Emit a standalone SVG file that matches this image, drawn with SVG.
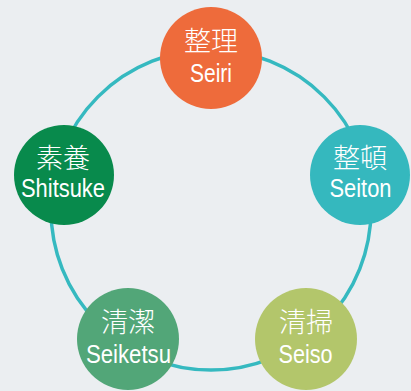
<svg xmlns="http://www.w3.org/2000/svg" width="411" height="391" viewBox="0 0 411 391">
<style>
.bg{fill:#EBEEF1}
.ring{fill:none;stroke:#35B9C0;stroke-width:3.5}
.jp{font-family:"Noto Sans CJK JP","Noto Sans CJK SC",sans-serif;font-size:27px;font-weight:300;fill:#ffffff;text-anchor:middle}
.en{font-family:"Liberation Sans",Arial,sans-serif;font-size:26px;fill:#ffffff;text-anchor:middle}
</style>
<rect class="bg" x="0" y="0" width="411" height="391"/>
<g id="connectors">
<circle class="ring" cx="211" cy="210" r="160"/>
</g>
<g id="seiri">
<circle cx="211" cy="58" r="51" fill="#EE6B3B"/>
<text class="jp" x="211" y="50.5">整理</text>
<text class="en" x="211" y="82" textLength="42" lengthAdjust="spacingAndGlyphs">Seiri</text>
</g>
<g id="seiton">
<circle cx="360" cy="175" r="50" fill="#35B8BE"/>
<text class="jp" x="360" y="167.5">整頓</text>
<text class="en" x="360.5" y="197" textLength="62" lengthAdjust="spacingAndGlyphs">Seiton</text>
</g>
<g id="seiso">
<circle cx="306" cy="339" r="51" fill="#B3C66B"/>
<text class="jp" x="306" y="331.5">清掃</text>
<text class="en" x="305.5" y="363" textLength="54" lengthAdjust="spacingAndGlyphs">Seiso</text>
</g>
<g id="seiketsu">
<circle cx="128" cy="339" r="51" fill="#52A678"/>
<text class="jp" x="128" y="331.5">清潔</text>
<text class="en" x="128.5" y="363" textLength="85" lengthAdjust="spacingAndGlyphs">Seiketsu</text>
</g>
<g id="shitsuke">
<circle cx="64" cy="175" r="50" fill="#088A4C"/>
<text class="jp" x="63" y="167.5">素養</text>
<text class="en" x="63" y="196.5" textLength="84" lengthAdjust="spacingAndGlyphs">Shitsuke</text>
</g>
</svg>
